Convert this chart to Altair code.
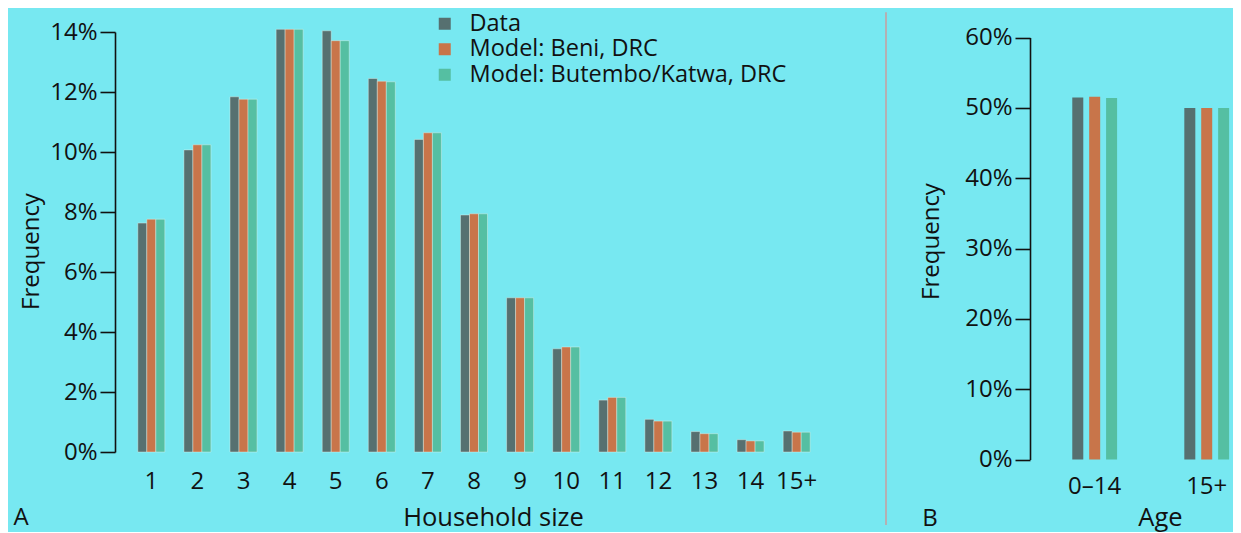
import altair as alt
import pandas as pd

FONT = "Open Sans"

series = ["Data", "Model: Beni, DRC", "Model: Butembo/Katwa, DRC"]
colors = ["#567070", "#C8754A", "#55BFA2"]

sizes = ["1", "2", "3", "4", "5", "6", "7", "8", "9", "10", "11", "12", "13", "14", "15+"]
hh_data = [7.63, 10.07, 11.84, 14.09, 14.04, 12.45, 10.42, 7.90, 5.14, 3.44, 1.73, 1.09, 0.68, 0.41, 0.70]
hh_beni = [7.76, 10.24, 11.76, 14.09, 13.71, 12.36, 10.64, 7.94, 5.14, 3.50, 1.82, 1.03, 0.61, 0.37, 0.66]
hh_butembo = [7.76, 10.24, 11.76, 14.09, 13.71, 12.34, 10.64, 7.94, 5.14, 3.50, 1.82, 1.03, 0.61, 0.37, 0.66]

ages = ["0\u201314", "15+"]
age_data = [51.5, 50.0]
age_beni = [51.6, 50.0]
age_butembo = [51.4, 50.0]

ticks_a = [0, 2, 4, 6, 8, 10, 12, 14]
ticks_b = [0, 10, 20, 30, 40, 50, 60]


def build(cats, cols):
    rows = []
    for i, c in enumerate(cats):
        for name, vals in zip(series, cols):
            rows.append({"cat": c, "series": name, "freq": vals[i] / 100.0})
    return pd.DataFrame(rows)


df_a = build(sizes, [hh_data, hh_beni, hh_butembo])
df_b = build(ages, [age_data, age_beni, age_butembo])

# ---------------- Panel A ----------------
bars_a = alt.Chart(df_a).mark_bar(
    stroke="#e6f5ef", strokeWidth=0.6, strokeOpacity=0.7
).encode(
    x=alt.X(
        "cat:N", sort=sizes,
        scale=alt.Scale(paddingInner=0.414, paddingOuter=0.495),
        axis=alt.Axis(title="Household size", labelAngle=0, ticks=False, domain=False,
                      labelPadding=36, labelBaseline="alphabetic",
                      titleX=378, titleY=73, titleBaseline="alphabetic", titleAlign="center",
                      titleFontSize=25.5),
    ),
    xOffset=alt.XOffset("series:N", sort=series, scale=alt.Scale(paddingInner=0, paddingOuter=0)),
    y=alt.Y(
        "freq:Q",
        scale=alt.Scale(domain=[0, 0.14], nice=False, zero=True),
        axis=alt.Axis(values=[v / 100 for v in ticks_a], format=".0%", title="Frequency",
                      grid=False, tickSize=15, labelPadding=3,
                      titleX=-77, titleY=219, titleAngle=270,
                      titleBaseline="alphabetic", titleAlign="center"),
    ),
    color=alt.Color(
        "series:N", sort=series,
        scale=alt.Scale(domain=series, range=colors),
        legend=alt.Legend(title=None, orient="none", legendX=318, legendY=-20,
                          symbolType="square", symbolSize=144, symbolStrokeWidth=0,
                          labelFont=FONT, labelFontSize=23.5, labelColor="#111111",
                          labelOffset=13, rowPadding=0.5, padding=0, labelLimit=1000),
    ),
)

label_a = alt.Chart(pd.DataFrame({"t": ["A"]})).mark_text(
    font=FONT, fontSize=24, color="#111111", align="center", baseline="alphabetic"
).encode(text="t:N", x=alt.value(-94), y=alt.value(493))

anchor_a = alt.Chart(pd.DataFrame({"t": ["a"]})).mark_rule(
    color="#000000", opacity=0, strokeWidth=1
).encode(x=alt.value(-106.5), y=alt.value(-23.2), y2=alt.value(499.5))

panel_a = alt.layer(bars_a, label_a, anchor_a).properties(width=718, height=420)

# ---------------- Panel B ----------------
bars_b = alt.Chart(df_b).mark_bar().encode(
    x=alt.X(
        "cat:N", sort=ages,
        scale=alt.Scale(paddingInner=0.6, paddingOuter=0.206, align=0.916),
        axis=alt.Axis(title="Age", labelAngle=0, ticks=False, domain=False,
                      labelPadding=34, labelBaseline="alphabetic",
                      titleX=130, titleY=66, titleBaseline="alphabetic", titleAlign="center",
                      titleFontSize=25.5),
    ),
    xOffset=alt.XOffset("series:N", sort=series, scale=alt.Scale(paddingInner=0.349, paddingOuter=0)),
    y=alt.Y(
        "freq:Q",
        scale=alt.Scale(domain=[0, 0.6], nice=False, zero=True, range=[427.6, 5.6]),
        axis=alt.Axis(values=[v / 100 for v in ticks_b], format=".0%", title="Frequency",
                      grid=False, tickSize=15, labelPadding=3,
                      titleX=-92, titleY=209, titleAngle=270,
                      titleBaseline="alphabetic", titleAlign="center"),
    ),
    color=alt.Color("series:N", sort=series, scale=alt.Scale(domain=series, range=colors), legend=None),
)

label_b = alt.Chart(pd.DataFrame({"t": ["B"]})).mark_text(
    font=FONT, fontSize=24, color="#111111", align="center", baseline="alphabetic"
).encode(text="t:N", x=alt.value(-100), y=alt.value(494))

sep_b = alt.Chart(pd.DataFrame({"t": ["s"]})).mark_rule(
    color="#b4b0b2", strokeWidth=2
).encode(x=alt.value(-144), y=alt.value(-19.7), y2=alt.value(493))

panel_b = alt.layer(bars_b, label_b, sep_b).properties(width=203, height=427.6)

chart = alt.hconcat(panel_a, panel_b, spacing=52).resolve_scale(
    color="independent", xOffset="independent"
).properties(
    padding=0, background="#77E8F1"
).configure_view(stroke=None).configure_axis(
    labelFont=FONT, titleFont=FONT, labelFontSize=24, titleFontSize=24,
    titleFontWeight="normal", labelColor="#111111", titleColor="#111111",
    domainColor="#111111", tickColor="#111111", domainWidth=1.6, tickWidth=1.6,
)

chart.save("out.html", embed_options={"renderer": "svg", "actions": False})
